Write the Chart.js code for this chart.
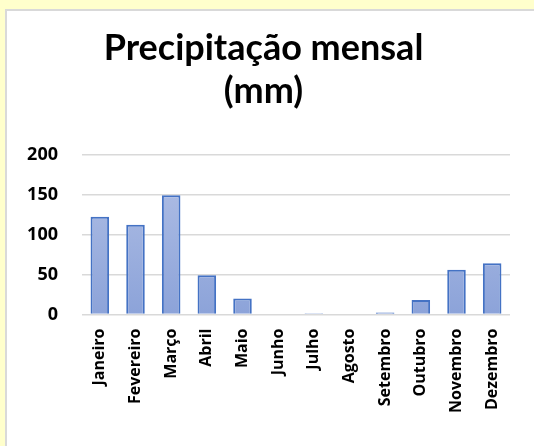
<!DOCTYPE html>
<html>
<head>
<meta charset="utf-8">
<script src="https://cdn.jsdelivr.net/npm/chart.js@4/dist/chart.umd.min.js"></script>
<style>
html,body{margin:0;padding:0;background:#FFFFCC;}
#wrap{position:absolute;left:0;top:0;width:534px;height:446px;}
</style>
</head>
<body>
<div id="wrap"><canvas id="c" width="534" height="446"></canvas></div>
<script>
const titleLines = ['Precipitação mensal', '(mm)'];
const months = ['Janeiro','Fevereiro','Março','Abril','Maio','Junho','Julho','Agosto','Setembro','Outubro','Novembro','Dezembro'];
const rainfall = [122, 112, 149, 49, 20, 0, 1.5, 1, 2.5, 18, 56, 64];
const yTicks = [0, 50, 100, 150, 200];

const panelPlugin = {
  id: 'panel',
  beforeDraw(chart) {
    const ctx = chart.ctx;
    ctx.save();
    ctx.fillStyle = '#FFFFCC';
    ctx.fillRect(0, 0, chart.width, chart.height);
    ctx.fillStyle = '#D9D9D9';
    ctx.fillRect(5, 9, chart.width, chart.height);
    ctx.fillStyle = '#FFFFFF';
    ctx.fillRect(7, 11, chart.width, chart.height);
    ctx.restore();
  }
};

function barGradient(context) {
  const chart = context.chart;
  const area = chart.chartArea;
  if (!area) return '#9DB0DE';
  const g = chart.ctx.createLinearGradient(0, area.top, 0, area.bottom);
  g.addColorStop(0, '#B3C1E6');
  g.addColorStop(1, '#8CA3D9');
  return g;
}

new Chart(document.getElementById('c'), {
  type: 'bar',
  data: {
    labels: months,
    datasets: [{
      data: rainfall,
      backgroundColor: barGradient,
      borderColor: '#4472C4',
      borderWidth: 2,
      barPercentage: 0.52,
      categoryPercentage: 1.0
    }]
  },
  options: {
    responsive: false,
    animation: false,
    layout: { padding: { left: 17, right: 24, top: 27, bottom: 19 } },
    plugins: {
      legend: { display: false },
      tooltip: { enabled: false },
      title: {
        display: true,
        text: titleLines,
        color: '#000000',
        font: { family: 'Lato', size: 36, weight: 'bold', lineHeight: 1.2 },
        padding: { top: 0, bottom: 41 }
      }
    },
    scales: {
      x: {
        grid: { display: false, drawTicks: false },
        border: { display: false },
        ticks: {
          color: '#000000',
          font: { family: 'Open Sans', size: 16, weight: 'bold' },
          minRotation: 90,
          maxRotation: 90,
          autoSkip: false,
          padding: 14
        }
      },
      y: {
        min: 0,
        max: 200,
        afterBuildTicks(axis) { axis.ticks = yTicks.map(v => ({ value: v })); },
        afterFit(axis) { axis.width = 65; },
        grid: { color: '#D9D9D9', lineWidth: 1.5, drawTicks: false },
        border: { display: false },
        ticks: {
          color: '#000000',
          font: { family: 'Open Sans', size: 18, weight: 'bold' },
          padding: 24
        }
      }
    }
  },
  plugins: [panelPlugin]
});
</script>
</body>
</html>
